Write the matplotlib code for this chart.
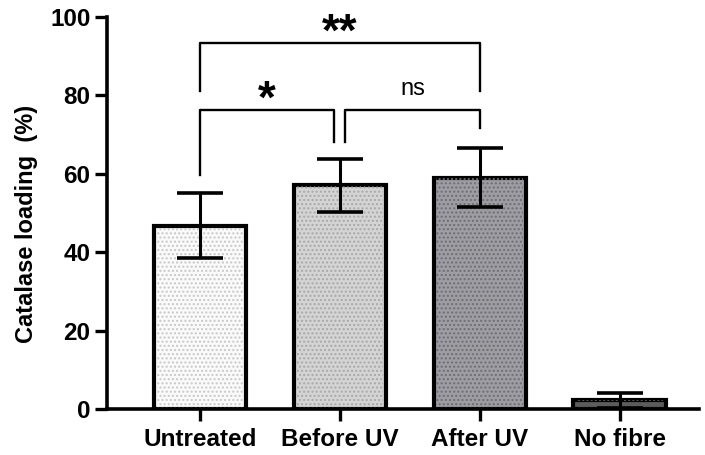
import matplotlib.pyplot as plt

plt.rcParams["font.family"] = ["Liberation Sans", "DejaVu Sans"]
plt.rcParams["font.weight"] = "bold"

groups = ["Untreated", "Before UV", "After UV", "No fibre"]
means = [46.7, 57.0, 59.0, 2.2]
errors = [8.3, 6.7, 7.6, 1.9]
fills = ["#fafafa", "#d4d4d4", "#9e9da4", "#5c5c5c"]
dot_colors = ["#c8c8c8", "#a8a8a8", "#6e6e72", "#5c5c5c"]

# significance brackets: (left index, right index, bar height, left leg end, right leg end, label)
brackets = [
    (0, 2, 93.4, 81.2, 81.2, "**"),
    (0, 0.96, 76.3, 59.7, 68.2, "*"),
    (1.04, 2, 76.3, 68.2, 71.7, "ns"),
]

fig = plt.figure(figsize=(7.05, 4.55), dpi=100)
ax = fig.add_axes([0.152, 0.101, 0.84, 0.862])

x = range(len(groups))
ax.bar(x, means, width=0.66, color=fills, edgecolor="black", linewidth=3, zorder=2)
for i in x:
    ax.bar(i, means[i], width=0.62, color="none", edgecolor=dot_colors[i],
           hatch="....", linewidth=0, zorder=2.5)
ax.errorbar(x, means, yerr=errors, fmt="none", ecolor="black", elinewidth=2.2,
            capsize=16.5, capthick=2.6, zorder=3)

for xl, xr, h, yl, yr, label in brackets:
    ax.plot([xl, xl, xr, xr], [yl, h, h, yr], color="black", lw=1.7,
            clip_on=False, zorder=4)
    if label == "ns":
        ax.text((xl + xr) / 2, h + 3.8, label, ha="center", va="baseline",
                fontsize=17, fontweight="normal")
    else:
        ax.text((xl + xr) / 2, h - 0.8, label, ha="center", va="baseline",
                fontsize=33, fontweight="bold", clip_on=False)

ax.set_xlim(-0.664, 3.57)
ax.set_ylim(0, 100)
ax.set_yticks([0, 20, 40, 60, 80, 100])
ax.set_xticks(list(x))
ax.set_xticklabels(groups)
ax.set_ylabel("Catalase loading  (%)", fontsize=17, fontweight="bold")
ax.yaxis.set_label_coords(-0.117, 0.472)
ax.tick_params(axis="both", labelsize=17.5, width=2.4, length=8.5, direction="out")
ax.tick_params(axis="x", pad=5)

for side in ["top", "right"]:
    ax.spines[side].set_visible(False)
for side in ["left", "bottom"]:
    ax.spines[side].set_linewidth(2.6)

fig.savefig("out.png", dpi=100)
